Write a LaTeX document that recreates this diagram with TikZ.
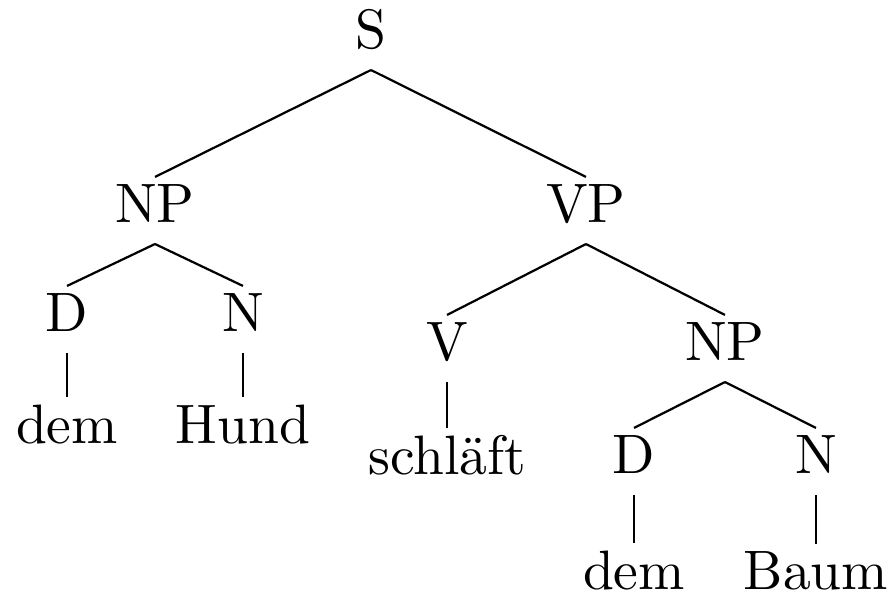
\documentclass[tikz,border=0pt]{standalone}
\usetikzlibrary{calc}
\begin{document}
\begin{tikzpicture}[x=0.18pt,y=-0.18pt,
  lbl/.style={anchor=base,inner sep=0pt,font=\fontsize{10}{12}\selectfont},
  edge/.style={line width=0.4pt}]
\useasboundingbox (0,0) rectangle (889,593);
% nodes (positions in pixel units, baseline anchored)
\node[lbl] (S)   at (371,48)  {S};
\node[lbl] (NPa) at (155,222) {NP};
\node[lbl] (VP)  at (586,222) {VP};
\node[lbl] (Da)  at (67,331)  {D};
\node[lbl] (Na)  at (243,331) {N};
\node[lbl] (V)   at (447,360) {V};
\node[lbl] (NPb) at (725,360) {NP};
\node[lbl] (dema) at (67,443) {dem};
\node[lbl] (hund) at (243,443) {Hund};
\node[lbl] (schl) at (447,474) {schläft};
\node[lbl] (Db)  at (634,473) {D};
\node[lbl] (Nb)  at (816,473) {N};
\node[lbl] (demb) at (634,589) {dem};
\node[lbl] (baum) at (816,589) {Baum};
% edges
\foreach \p/\c in {S/NPa,S/VP,NPa/Da,NPa/Na,VP/V,VP/NPb,NPb/Db,NPb/Nb,Da/dema,Na/hund,V/schl,Db/demb,Nb/baum}{
  \draw[edge] ($(\p.base)+(0,22)$) -- ($(\c.north)+(0,-6)$);
}
\end{tikzpicture}
\end{document}
